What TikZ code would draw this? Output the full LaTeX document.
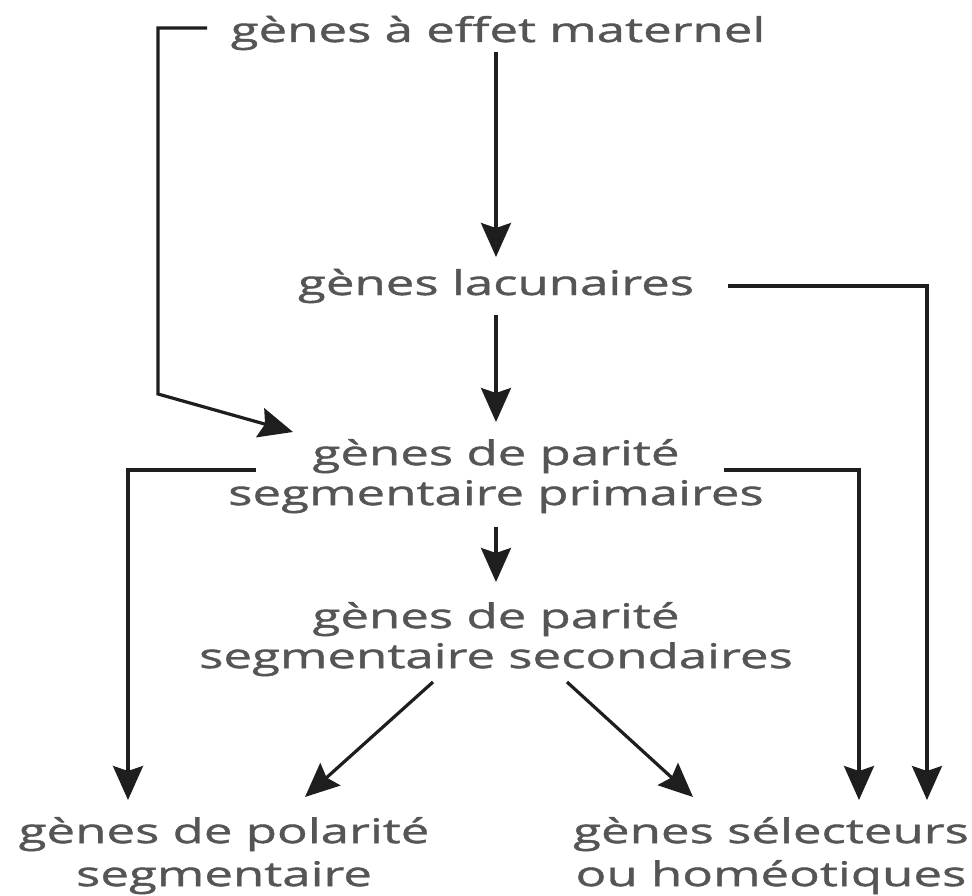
\documentclass[tikz,border=0pt]{standalone}
\usepackage{fontspec}
\setmainfont{Open Sans}[FakeStretch=1.5,FakeBold=1.2]
\usetikzlibrary{arrows.meta,calc}
\definecolor{txt}{HTML}{555555}
\definecolor{ln}{HTML}{1E1E1E}
\begin{document}
\begin{tikzpicture}[x=1pt,y=-1pt,
  lbl/.style={inner sep=0pt,outer sep=0pt,text=txt,font=\fontsize{34}{40}\selectfont,align=center},
  lblb/.style={lbl,font=\fontsize{34}{43}\selectfont},
  arr/.style={draw=ln,line width=3.2pt,-{Stealth[length=34pt,width=30pt,inset=5pt]}}]
\path[use as bounding box,fill=white] (0,0) rectangle (972,896);
\node[lbl,anchor=base] (mat) at (498,42) {gènes à effet maternel};
\node[lbl,anchor=base] (lac) at (496,295) {gènes lacunaires};
\node[lbl,anchor=north] (pp) at (496,439) {gènes de parité\\segmentaire primaires};
\node[lbl,anchor=north] (ps) at (496,602) {gènes de parité\\segmentaire secondaires};
\node[lblb,anchor=north] (pol) at (224,817) {gènes de polarité\\segmentaire};
\node[lblb,anchor=north] (sel) at (771,817) {gènes sélecteurs\\ou homéotiques};
\coordinate (c1) at (158,394);
% main column
\draw[arr] ($(mat.base)+(-2,10)$) -- ($(lac.base)+(0,-38)$);
\draw[arr] ($(lac.base)+(0,20)$) -- ($(pp.north)+(0,-17)$);
\draw[arr] ($(pp.north)+(0,88)$) -- ($(ps.north)+(0,-20)$);
% bracket from maternal genes
\draw[arr,line join=miter] ($(mat.base)+(-291,-14)$) -| (c1) -- ($(pp.north)+(-203,-7)$);
% lacunaires to selecteurs
\draw[arr,line join=miter] ($(lac.base)+(232,-9)$) -| ($(sel.north)+(156,-17)$);
% primaires to polarite and selecteurs
\draw[arr,line join=miter] ($(pp.north)+(-240,31)$) -| ($(pol.north)+(-96,-17)$);
\draw[arr,line join=miter] ($(pp.north)+(228,31)$) -| ($(sel.north)+(88,-17)$);
% secondaires diagonals
\draw[arr] ($(ps.north)+(-63,80)$) -- ($(pol.north)+(81,-20)$);
\draw[arr] ($(ps.north)+(71,80)$) -- ($(sel.north)+(-78,-20)$);
\end{tikzpicture}
\end{document}
